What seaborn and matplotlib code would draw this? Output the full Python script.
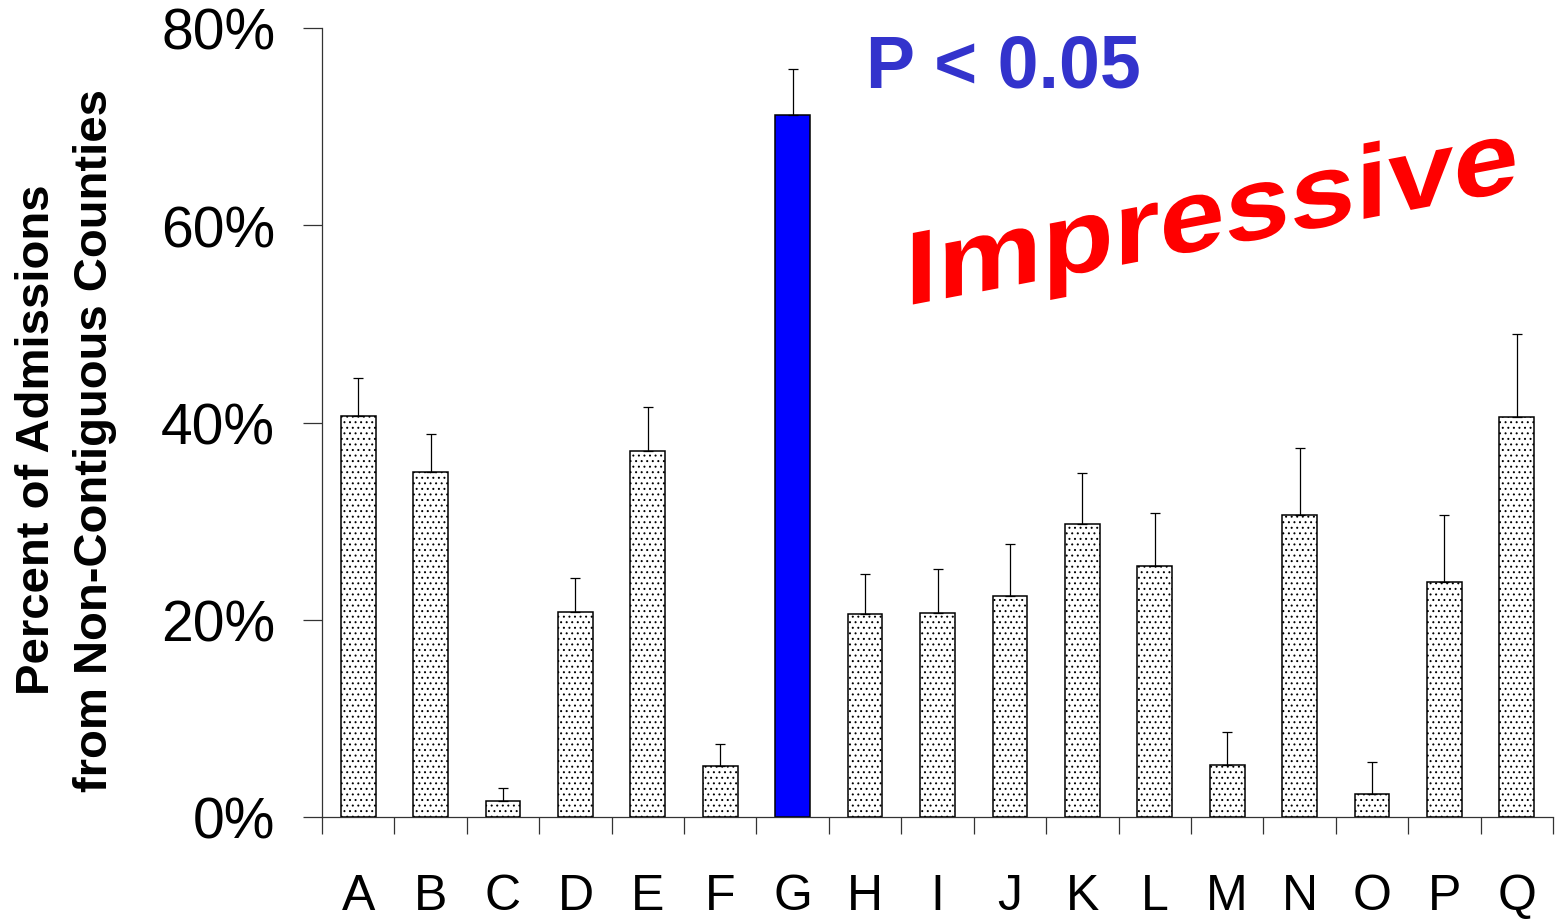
import math
import numpy as np
import matplotlib
matplotlib.use('Agg')
import matplotlib.pyplot as plt
import seaborn as sns
from matplotlib.textpath import TextPath
from matplotlib.patches import PathPatch
from matplotlib.font_manager import FontProperties
from matplotlib.transforms import Affine2D

# 병원별 원거리(비인접 카운티) 입원 비율
hospitals = list('ABCDEFGHIJKLMNOPQ')
pct = [40.7, 35.0, 1.6, 20.8, 37.1, 5.2, 71.2, 20.6, 20.7, 22.4,
       29.7, 25.4, 5.3, 30.6, 2.3, 23.8, 40.6]
err_hi = [3.8, 3.8, 1.3, 3.4, 4.5, 2.2, 4.6, 4.0, 4.4, 5.3,
          5.2, 5.4, 3.3, 6.8, 3.3, 6.8, 8.4]
highlight = 'G'
y_ticks = [0, 20, 40, 60, 80]

sns.set_style('ticks')
plt.rcParams['font.family'] = ['Liberation Sans', 'DejaVu Sans']
plt.rcParams['hatch.linewidth'] = 0.7
plt.rcParams['text.color'] = 'black'
plt.rcParams['xtick.labelcolor'] = 'black'
plt.rcParams['ytick.labelcolor'] = 'black'

W, H = 1556, 920
fig = plt.figure(figsize=(W / 100, H / 100), dpi=100)
ax = fig.add_axes([322 / W, 1 - 818 / H, (1553 - 322) / W, (818 - 29) / H])

sns.barplot(x=hospitals, y=pct, order=hospitals, color='white',
            edgecolor='black', linewidth=1.1, width=0.48,
            errorbar=None, saturation=1, ax=ax)
for cat, patch in zip(hospitals, ax.patches):
    if cat == highlight:
        patch.set_facecolor('#0000FF')
    else:
        patch.set_hatch('...')

xs = np.arange(len(hospitals))
ax.errorbar(xs, pct, yerr=[np.zeros(len(pct)), err_hi], fmt='none',
            ecolor='black', elinewidth=0.9, capsize=3.3, capthick=0.9, zorder=1)

ax.set_xlim(-0.5, len(hospitals) - 0.5)
ax.set_ylim(0, 80)
ax.set_yticks(y_ticks)
ax.set_yticklabels([f'{v}%' for v in y_ticks], fontsize=41, color='black')
ax.tick_params(axis='y', length=13.7, width=0.9, pad=20, color='#333333')

# 카테고리 경계 눈금 + 중앙 라벨
ax.set_xticks(xs)
ax.set_xticklabels(hospitals, fontsize=36, color='black')
ax.tick_params(axis='x', which='major', length=0, pad=40)
ax.set_xticks(np.arange(len(hospitals) + 1) - 0.5, minor=True)
ax.tick_params(axis='x', which='minor', length=12.5, width=0.9, color='#333333')
ax.set_xlabel('')
ax.set_ylabel('')

sns.despine(ax=ax)
for s in ['left', 'bottom']:
    ax.spines[s].set_linewidth(0.9)
    ax.spines[s].set_color('#333333')

fig.text(66 / W, 1 - 440 / H, 'Percent of Admissions\nfrom Non-Contiguous Counties',
         rotation=90, ha='center', va='center', fontsize=34, fontweight='bold',
         linespacing=1.4, color='black')

fig.text(866 / W, 1 - 87 / H, 'P < 0.05', ha='left', va='baseline',
         fontsize=53, fontweight='bold', color='#3333CC')

# "Impressive" - 세로 방향으로 기울어진 워드아트 효과
tp = TextPath((0, 0), 'Impressive', size=1,
              prop=FontProperties(family='Liberation Sans', weight='bold'))
x0 = tp.vertices[:, 0].min()
tr = (Affine2D().translate(-x0, 0).scale(103 * 1.14, 104)
      .skew(0, math.atan(0.19)).translate(905, H - 307))
fig.add_artist(PathPatch(tr.transform_path(tp), facecolor='#FF0000',
                         edgecolor='none', transform=None))

fig.savefig('out.png', dpi=100)
